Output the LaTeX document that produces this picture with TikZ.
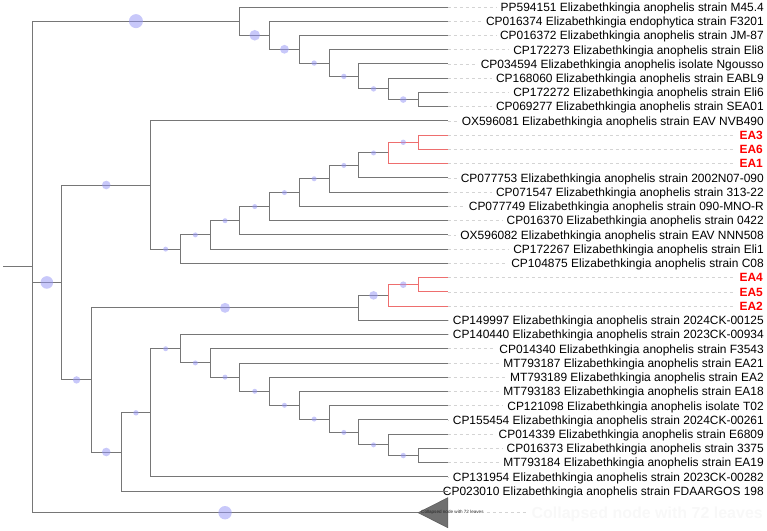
\documentclass[tikz,border=0pt]{standalone}
\usepackage{fontspec}
\setmainfont{Liberation Sans}
\usetikzlibrary{calc}
\definecolor{brc}{RGB}{118,118,118}
\definecolor{redbr}{RGB}{238,110,110}
\definecolor{bsc}{RGB}{150,150,245}
\definecolor{dshc}{RGB}{212,212,212}
\definecolor{trif}{RGB}{112,112,112}
\definecolor{faintc}{RGB}{248,248,248}
\newcommand\tbr[4][br]{\draw[#1] (#2) |- (#3); \node[bs,minimum size=#4pt] (c-#3) at ($(#2|-#3)!0.5!(#3)$) {};}
\begin{document}
\begin{tikzpicture}[x=1pt,y=-1pt,
  br/.style={draw=brc,line width=1pt},
  rbr/.style={draw=redbr,line width=1pt},
  bs/.style={circle,inner sep=0pt,fill=bsc,fill opacity=0.52,draw=none},
  dsh/.style={draw=dshc,line width=0.6pt,dash pattern=on 3pt off 3pt},
  lab/.style={anchor=base east,inner sep=0pt,font=\fontsize{11.95}{13}\selectfont},
  rlab/.style={anchor=base east,inner sep=0pt,text=red,font=\bfseries\fontsize{11.95}{13}\selectfont}]
\useasboundingbox (0,0) rectangle (767,530);
% leaves
\foreach \i in {1,...,35} \coordinate (l\i) at (447.8,{7+14.24*(\i-1)});
% internal nodes
\coordinate (r0) at (3,266.9);
\coordinate (root) at (32,266.9);
\coordinate (T7) at (239.9,21.13);
\coordinate (T8) at (269.6,35.26);
\coordinate (T9) at (299.3,49.28);
\coordinate (T10) at (329,63.07);
\coordinate (T11) at (358.7,76.42);
\coordinate (T12) at (388.4,88.88);
\coordinate (T13) at (418.1,99.56);
\coordinate (A) at (61.7,282.46);
\coordinate (B) at (150.8,185.01);
\coordinate (S5) at (180.5,249.11);
\coordinate (S6) at (210.2,234.90);
\coordinate (S7) at (239.9,220.71);
\coordinate (S8) at (269.6,206.58);
\coordinate (S9) at (299.3,192.57);
\coordinate (S10) at (329,178.77);
\coordinate (S11) at (358.7,165.42);
\coordinate (R12) at (388.4,152.96);
\coordinate (R13) at (418.1,142.28);
\coordinate (C) at (91.4,379.91);
\coordinate (D) at (358.7,307.82);
\coordinate (Q12) at (388.4,295.36);
\coordinate (Q13) at (418.1,284.68);
\coordinate (N) at (121.1,452.0);
\coordinate (E) at (150.8,412.83);
\coordinate (F) at (180.5,348.73);
\coordinate (G) at (210.2,362.95);
\coordinate (H) at (239.9,377.13);
\coordinate (I) at (269.6,391.26);
\coordinate (J) at (299.3,405.28);
\coordinate (K) at (329,419.07);
\coordinate (K11) at (358.7,432.42);
\coordinate (L) at (388.4,444.88);
\coordinate (M) at (418.1,455.56);
\coordinate (cl) at (418.1,512.7);
% labels
\foreach \i/\t in {
1/PP594151 Elizabethkingia anophelis strain M45.4,
2/CP016374 Elizabethkingia endophytica strain F3201,
3/CP016372 Elizabethkingia anophelis strain JM-87,
4/CP172273 Elizabethkingia anophelis strain Eli8,
5/CP034594 Elizabethkingia anophelis isolate Ngousso,
6/CP168060 Elizabethkingia anophelis strain EABL9,
7/CP172272 Elizabethkingia anophelis strain Eli6,
8/CP069277 Elizabethkingia anophelis strain SEA01,
9/OX596081 Elizabethkingia anophelis strain EAV NVB490,
13/CP077753 Elizabethkingia anophelis strain 2002N07-090,
14/CP071547 Elizabethkingia anophelis strain 313-22,
15/CP077749 Elizabethkingia anophelis strain 090-MNO-R,
16/CP016370 Elizabethkingia anophelis strain 0422,
17/OX596082 Elizabethkingia anophelis strain EAV NNN508,
18/CP172267 Elizabethkingia anophelis strain Eli1,
19/CP104875 Elizabethkingia anophelis strain C08,
23/CP149997 Elizabethkingia anophelis strain 2024CK-00125,
24/CP140440 Elizabethkingia anophelis strain 2023CK-00934,
25/CP014340 Elizabethkingia anophelis strain F3543,
26/MT793187 Elizabethkingia anophelis strain EA21,
27/MT793189 Elizabethkingia anophelis strain EA2,
28/MT793183 Elizabethkingia anophelis strain EA18,
29/CP121098 Elizabethkingia anophelis isolate T02,
30/CP155454 Elizabethkingia anophelis strain 2024CK-00261,
31/CP014339 Elizabethkingia anophelis strain E6809,
32/CP016373 Elizabethkingia anophelis strain 3375,
33/MT793184 Elizabethkingia anophelis strain EA19,
34/CP131954 Elizabethkingia anophelis strain 2023CK-00282,
35/CP023010 Elizabethkingia anophelis strain FDAARGOS 198}
{\node[lab] (lab\i) at (764,{7+14.24*(\i-1)+4.3}) {\t};
 \draw[dsh,shorten >=4pt] (l\i) -- (l\i -| lab\i.west);}
\foreach \i/\t in {10/EA3,11/EA6,12/EA1,20/EA4,21/EA5,22/EA2}
{\node[rlab] (lab\i) at (763,{7+14.24*(\i-1)+4.3}) {\t};
 \draw[dsh,shorten >=4pt] (l\i) -- (l\i -| lab\i.west);}
% collapsed labels
\node[anchor=base east,inner sep=0pt,text=faintc,font=\bfseries\fontsize{16}{18}\selectfont] (faint) at (763,518.5) {Collapsed node with 72 leaves};
% tree
\draw[br] (r0) -- (root);
\tbr{root}{T7}{14}
\draw[br] (T7) |- (l1);
\tbr{T7}{T8}{10.6}
\draw[br] (T8) |- (l2);
\tbr{T8}{T9}{8.8}
\draw[br] (T9) |- (l3);
\tbr{T9}{T10}{5.4}
\draw[br] (T10) |- (l4);
\tbr{T10}{T11}{5.4}
\draw[br] (T11) |- (l5);
\tbr{T11}{T12}{5.4}
\draw[br] (T12) |- (l6);
\tbr{T12}{T13}{6.6}
\draw[br] (T13) |- (l7);
\draw[br] (T13) |- (l8);
\tbr{root}{A}{12.6}
\tbr{A}{B}{8.6}
\draw[br] (B) |- (l9);
\tbr{B}{S5}{5}
\draw[br] (S5) |- (l19);
\tbr{S5}{S6}{5}
\draw[br] (S6) |- (l18);
\tbr{S6}{S7}{5}
\draw[br] (S7) |- (l17);
\tbr{S7}{S8}{5}
\draw[br] (S8) |- (l16);
\tbr{S8}{S9}{5}
\draw[br] (S9) |- (l15);
\tbr{S9}{S10}{5}
\draw[br] (S10) |- (l14);
\tbr{S10}{S11}{5}
\draw[br] (S11) |- (l13);
\tbr{S11}{R12}{5}
\draw[rbr] (R12) |- (l12);
\tbr[rbr]{R12}{R13}{5.4}
\draw[rbr] (R13) |- (l10);
\draw[rbr] (R13) |- (l11);
\tbr{A}{C}{7.4}
\tbr{C}{D}{10}
\draw[br] (D) |- (l23);
\tbr{D}{Q12}{8.6}
\draw[rbr] (Q12) |- (l22);
\tbr[rbr]{Q12}{Q13}{6.6}
\draw[rbr] (Q13) |- (l20);
\draw[rbr] (Q13) |- (l21);
\tbr{C}{N}{8.6}
\draw[br] (N) |- (l35);
\tbr{N}{E}{5.4}
\draw[br] (E) |- (l34);
\tbr{E}{F}{5}
\draw[br] (F) |- (l24);
\tbr{F}{G}{5}
\draw[br] (G) |- (l25);
\tbr{G}{H}{5}
\draw[br] (H) |- (l26);
\tbr{H}{I}{5}
\draw[br] (I) |- (l27);
\tbr{I}{J}{5}
\draw[br] (J) |- (l28);
\tbr{J}{K}{5}
\draw[br] (K) |- (l29);
\tbr{K}{K11}{5}
\draw[br] (K11) |- (l30);
\tbr{K11}{L}{5}
\draw[br] (L) |- (l31);
\tbr{L}{M}{5.4}
\draw[br] (M) |- (l32);
\draw[br] (M) |- (l33);
\tbr{root}{cl}{13.4}
% collapsed triangle
\draw[fill=trif,draw=trif!80!black,line width=0.5pt] (cl) -- ++(29.7,-15) -- ++(0,30) -- cycle;
\node[anchor=west,inner sep=0pt,font=\fontsize{4.6}{5}\selectfont,text=black!85] (tiny) at (421,512.7) {Collapsed node with 72 leaves};
\draw[dsh,shorten <=3pt,shorten >=4pt] (tiny.east) -- (tiny.east -| faint.west);
\end{tikzpicture}
\end{document}
